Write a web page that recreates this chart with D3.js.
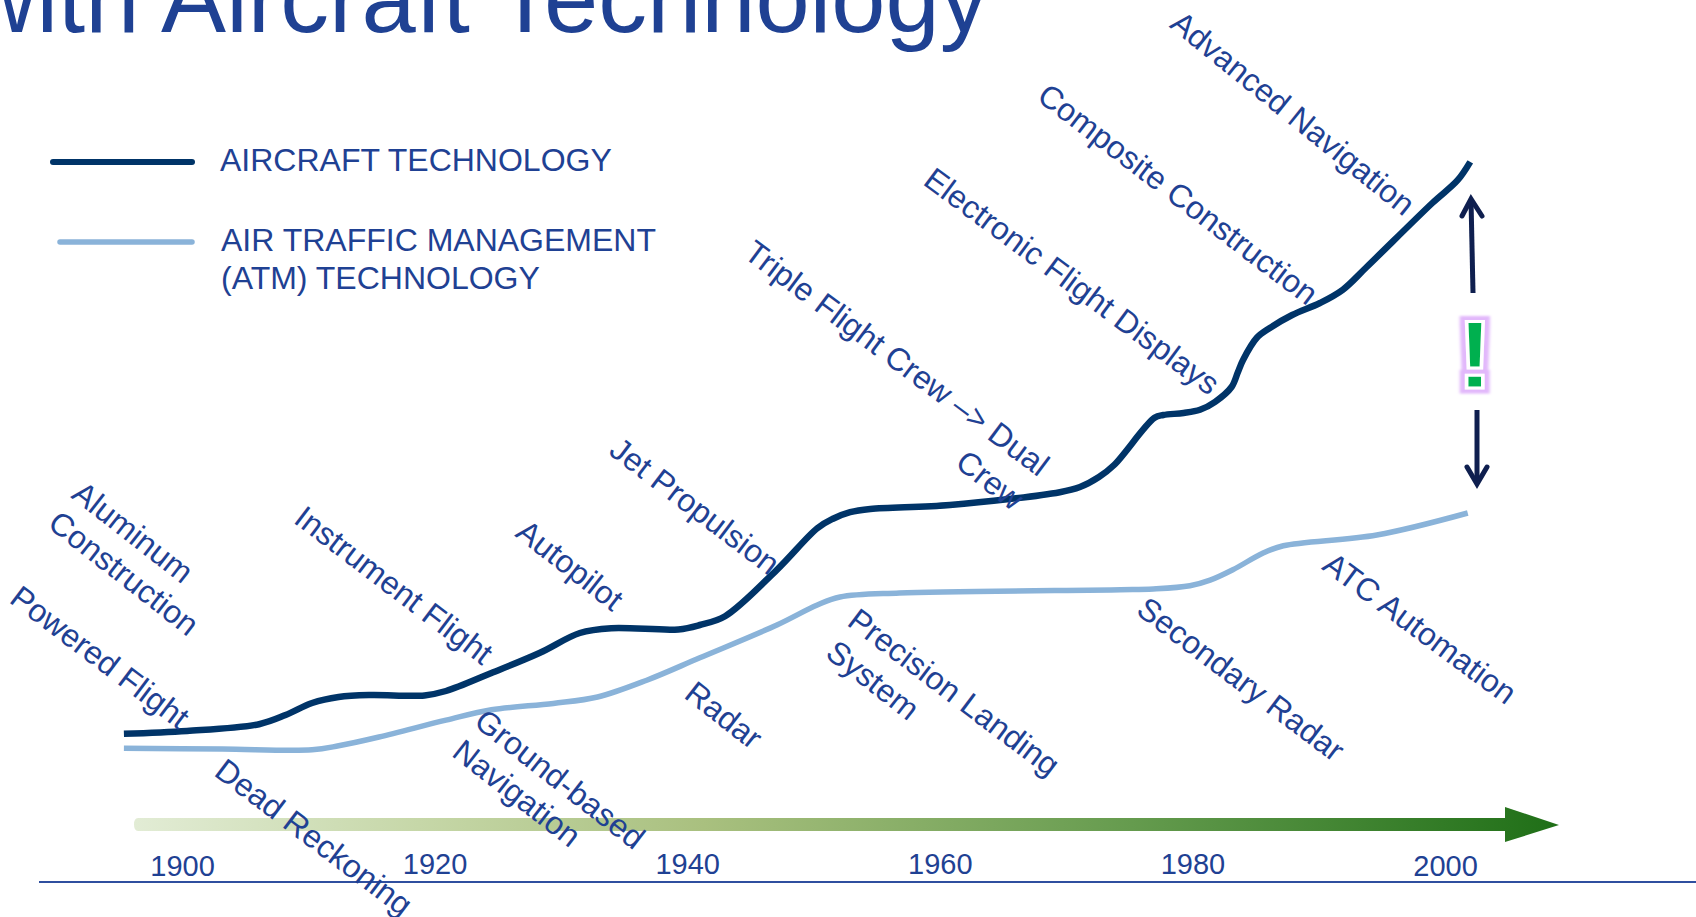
<!DOCTYPE html>
<html>
<head>
<meta charset="utf-8">
<title>ATM and Aircraft Technology</title>
<script src="https://cdn.jsdelivr.net/npm/d3@7"></script>
<style>
    html, body { margin: 0; padding: 0; background: #fff; overflow: hidden; }
    text { font-family: "Liberation Sans", Arial, sans-serif; fill: #1f4193; }
</style>
</head>
<body>
<div id="chart"></div>
<script>
// Values (years vs. an unnamed technology level, 0-100)
const aircraftYears = [1895.4, 1900.4, 1906.1, 1908.2, 1910.3, 1912.4, 1914.9, 1919.2, 1920.9, 1924.5, 1928.3, 1931.5, 1934, 1939.3, 1941, 1943, 1947.1, 1950.3, 1951.5, 1952.9, 1954.5, 1960.8, 1969.5, 1971.1, 1972.6, 1973.8, 1977, 1977.7, 1979.3, 1980.6, 1981.8, 1983.1, 1983.6, 1984, 1985.1, 1986.1, 1987.9, 1990.1, 1991.9, 1993.8, 1999, 2001, 2002];
const aircraftLevels = [18.4, 18.75, 19.6, 20.75, 22.25, 23, 23.25, 23.2, 23.75, 26, 28.5, 31, 31.6, 31.45, 32, 33.1, 38.9, 44.1, 45.25, 46.1, 46.5, 47, 48.6, 49.25, 50.5, 52, 57.9, 58.25, 58.5, 58.9, 59.9, 61.75, 63.6, 65.1, 67.9, 69.1, 70.75, 72.25, 73.9, 76.75, 84.75, 87.6, 89.9];

const atmYears = [1895.4, 1903.2, 1910.3, 1912.4, 1915.6, 1920.9, 1924.5, 1929.4, 1932.9, 1936.8, 1941, 1947.1, 1950.3, 1952.1, 1956.8, 1974.3, 1976.9, 1979.8, 1981.4, 1983.2, 1985.6, 1987.2, 1994.6, 2001.8];
const atmLevels = [16.6, 16.5, 16.4, 16.9, 18, 20.1, 21.4, 22.2, 23, 25.1, 27.9, 32, 34.5, 35.5, 36, 36.4, 36.5, 36.9, 37.6, 38.9, 41, 41.9, 43.25, 46];

const tickYears = [1900, 1920, 1940, 1960, 1980, 2000];

const milestoneNames = ["Advanced Navigation", "Composite Construction", "Electronic Flight Displays", "Triple Flight Crew –> Dual", "Crew", "Jet Propulsion", "Autopilot", "Instrument Flight", "Aluminum", "Construction", "Powered Flight", "Dead Reckoning", "Ground-based", "Navigation", "Radar", "Precision Landing", "System", "Secondary Radar", "ATC Automation"];

const legendLabels = ["AIRCRAFT TECHNOLOGY", "AIR TRAFFIC MANAGEMENT", "(ATM) TECHNOLOGY"];

const width = 1696, height = 917;
const baselineY = 881;

const x = d3.scaleLinear().domain([1900, 2000]).range([182, 1445]);
const y = d3.scaleLinear().domain([0, 100]).range([baselineY, 81]);

const svg = d3.select("#chart").append("svg")
    .attr("width", width)
    .attr("height", height)
    .style("display", "block");

const defs = svg.append("defs");

// Timeline gradient
const grad = defs.append("linearGradient")
    .attr("id", "timeline")
    .attr("gradientUnits", "userSpaceOnUse")
    .attr("x1", 134).attr("x2", 1559).attr("y1", 0).attr("y2", 0);
grad.append("stop").attr("offset", "0").attr("stop-color", "#e2ecd5");
grad.append("stop").attr("offset", "0.2").attr("stop-color", "#c6d7a8");
grad.append("stop").attr("offset", "0.4").attr("stop-color", "#a9c07f");
grad.append("stop").attr("offset", "0.7").attr("stop-color", "#659b4e");
grad.append("stop").attr("offset", "1").attr("stop-color", "#1f6f17");

// Lilac glow round the exclamation mark
const glow = defs.append("filter").attr("id", "glow")
    .attr("x", "-50%").attr("y", "-20%").attr("width", "200%").attr("height", "140%");
glow.append("feMorphology").attr("in", "SourceAlpha").attr("operator", "dilate").attr("radius", 4).attr("result", "fat");
glow.append("feGaussianBlur").attr("in", "fat").attr("stdDeviation", 1.2).attr("result", "soft");
glow.append("feFlood").attr("flood-color", "#e2b8fb").attr("result", "tint");
glow.append("feComposite").attr("in", "tint").attr("in2", "soft").attr("operator", "in").attr("result", "halo");
const merge = glow.append("feMerge");
merge.append("feMergeNode").attr("in", "halo");
merge.append("feMergeNode").attr("in", "SourceGraphic");

// Title, cut off by the top of the picture
svg.append("text")
    .attr("x", -34)
    .attr("y", 32)
    .attr("font-size", 97.5)
    .text("with Aircraft Technology");

// Baseline
svg.append("line")
    .attr("x1", 39).attr("x2", width)
    .attr("y1", baselineY + 1).attr("y2", baselineY + 1)
    .attr("stroke", "#2f4f9f")
    .attr("stroke-width", 2);

// Timeline arrow
svg.append("path")
    .attr("d", "M138,818H1505V807L1559,825L1505,842V831H138Q134,831 134,824.5Q134,818 138,818Z")
    .attr("fill", "url(#timeline)");

// Year labels
const axis = d3.axisBottom(x)
    .tickValues(tickYears)
    .tickFormat(d3.format("d"))
    .tickSize(0)
    .tickPadding(0);

const axisG = svg.append("g")
    .attr("transform", `translate(0, ${baselineY - 25.5})`)
    .call(axis);
axisG.select(".domain").remove();
axisG.selectAll("text")
    .attr("font-family", null)
    .style("font-size", "29px")
    .attr("dy", d => (d === 1900 || d === 2000) ? "0.71em" : "0.63em");

// Technology curves
const line = d3.line()
    .x(d => x(d[0]))
    .y(d => y(d[1]))
    .curve(d3.curveCatmullRom.alpha(0.5));

svg.append("path")
    .datum(d3.zip(atmYears, atmLevels))
    .attr("fill", "none")
    .attr("stroke", "#8ab3d9")
    .attr("stroke-width", 5.5)
    .attr("d", line);

svg.append("path")
    .datum(d3.zip(aircraftYears, aircraftLevels))
    .attr("fill", "none")
    .attr("stroke", "#003468")
    .attr("stroke-width", 6.5)
    .attr("d", line);

// Milestone labels, rotated along the curves: centre x, centre y, angle
const milestoneSpots = [[1293, 113, 39], [1178, 194, 37.3], [1072, 281, 36.5], [897, 358, 36.7], [990, 480, 38], [695, 506, 37.2], [570, 565, 38], [394, 585, 37.2], [133, 532, 38], [124, 573, 38], [100, 657, 37], [314, 837, 37], [560, 779, 38], [517, 793, 38], [724, 715, 38], [954, 692, 37], [873, 680, 38], [1241, 679, 37], [1420, 628, 36.5]];

svg.selectAll(".milestone")
    .data(milestoneNames)
    .enter().append("text")
    .attr("class", "milestone")
    .attr("text-anchor", "middle")
    .attr("dy", "0.35em")
    .attr("font-size", 32)
    .attr("transform", (d, i) => `translate(${milestoneSpots[i][0]}, ${milestoneSpots[i][1]}) rotate(${milestoneSpots[i][2]})`)
    .text(d => d);

// Legend
const legendLines = [[53, 192, 162, "#003468", 6], [60, 192, 242, "#8ab3d9", 5.5]];
svg.selectAll(".legend-line")
    .data(legendLines)
    .enter().append("line")
    .attr("class", "legend-line")
    .attr("x1", d => d[0]).attr("x2", d => d[1])
    .attr("y1", d => d[2]).attr("y2", d => d[2])
    .attr("stroke", d => d[3])
    .attr("stroke-width", d => d[4])
    .attr("stroke-linecap", "round");

const legendY = [171, 251, 289];
svg.selectAll(".legend-text")
    .data(legendLabels)
    .enter().append("text")
    .attr("class", "legend-text")
    .attr("x", (d, i) => i === 0 ? 220 : 221)
    .attr("y", (d, i) => legendY[i])
    .attr("font-size", 32)
    .text(d => d);

// Gap arrows and exclamation mark
const arrowShafts = ["M1473,293L1471,199", "M1477,410L1477,484"];
const arrowHeads = ["M1462,216L1471,199L1482,216", "M1467,467L1477,484L1487,467"];

svg.selectAll(".gap-shaft")
    .data(arrowShafts)
    .enter().append("path")
    .attr("class", "gap-shaft")
    .attr("d", d => d)
    .attr("fill", "none")
    .attr("stroke", "#0f1f4f")
    .attr("stroke-width", 5);

svg.selectAll(".gap-head")
    .data(arrowHeads)
    .enter().append("path")
    .attr("class", "gap-head")
    .attr("d", d => d)
    .attr("fill", "none")
    .attr("stroke", "#0f1f4f")
    .attr("stroke-width", 5)
    .attr("stroke-linejoin", "miter")
    .attr("stroke-linecap", "round");

svg.append("text")
    .attr("text-anchor", "middle")
    .attr("font-size", 96)
    .attr("font-weight", "bold")
    .attr("filter", "url(#glow)")
    .attr("transform", "translate(1475, 388) scale(1.2, 1)")
    .style("fill", "#00b050")
    .attr("stroke", "#fff")
    .attr("stroke-width", 3)
    .text("!");
</script>
</body>
</html>
